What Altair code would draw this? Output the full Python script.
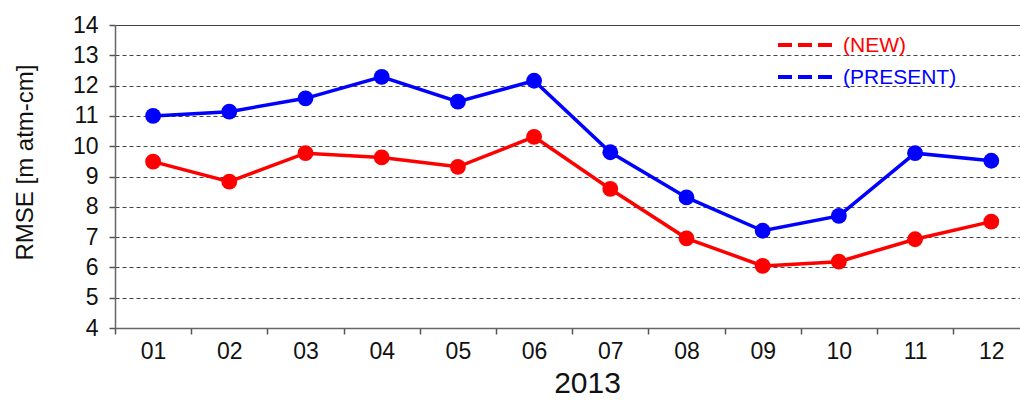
import altair as alt
import pandas as pd

# ---- data ----
month_labels = ["01", "02", "03", "04", "05", "06", "07", "08", "09", "10", "11", "12"]
month_num = list(range(1, 13))
new_vals = [9.49, 8.83, 9.77, 9.63, 9.32, 10.31, 8.59, 6.96, 6.05, 6.19, 6.93, 7.51]
present_vals = [11.00, 11.14, 11.58, 12.29, 11.47, 12.16, 9.80, 8.31, 7.21, 7.70, 9.77, 9.52]
series_names = ["(NEW)", "(PRESENT)"]
series_colors = ["#ff0000", "#0000ff"]
y_ticks = list(range(4, 15))
year_label = "2013"
y_title = "RMSE [m atm-cm]"

rows = []
for m, v in zip(month_num, new_vals):
    rows.append({"month": m, "value": v, "series": series_names[0]})
for m, v in zip(month_num, present_vals):
    rows.append({"month": m, "value": v, "series": series_names[1]})
df = pd.DataFrame(rows)

W, H = 905, 303
x_values = [v / 2 for v in range(1, 25)]  # 0.5, 1.0, ... 12.0
label_array = "[" + ",".join("'%s'" % s for s in month_labels) + "]"

FONT = "Liberation Sans"

x_enc = alt.X(
    "month:Q",
    scale=alt.Scale(domain=[0.5, 12.377], nice=False, zero=False),
    axis=alt.Axis(
        values=x_values,
        labelExpr="datum.value % 1 == 0 ? " + label_array + "[datum.value - 1] : ''",
        tickOpacity={"condition": {"test": "datum.value % 1 == 0", "value": 0}, "value": 1},
        tickSize=6,
        tickColor="#555555",
        tickWidth=1.5,
        labelOverlap=False,
        labelFlush=False,
        labelBound=False,
        labelFont=FONT,
        labelFontSize=23,
        labelColor="#111111",
        labelPadding=6,
        domainColor="#666666",
        domainWidth=1.5,
        grid=False,
        title=year_label,
        titleFont=FONT,
        titleFontSize=30,
        titleFontWeight="normal",
        titleColor="#111111",
        titleX=472,
        titleY=64,
        titleBaseline="alphabetic",
        titleAlign="center",
    ),
)

y_enc = alt.Y(
    "value:Q",
    scale=alt.Scale(domain=[4, 14], nice=False, zero=False),
    axis=alt.Axis(
        values=y_ticks,
        format="d",
        grid=True,
        gridColor="#444444",
        gridWidth=1,
        gridDash={"condition": {"test": "datum.value == 14", "value": []}, "value": [4, 3]},
        tickSize=6,
        tickColor="#555555",
        tickWidth=1.5,
        labelFont=FONT,
        labelFontSize=23,
        labelColor="#111111",
        labelPadding=11,
        domainColor="#666666",
        domainWidth=1.5,
        title=y_title,
        titleFont=FONT,
        titleFontSize=24,
        titleFontWeight="normal",
        titleColor="#111111",
        titleX=-90,
        titleY=137,
        titleAngle=270,
        titleAlign="center",
        titleBaseline="middle",
    ),
)

color_enc = alt.Color(
    "series:N",
    scale=alt.Scale(domain=series_names, range=series_colors),
    legend=None,
)

base = alt.Chart(df)
lines = base.mark_line(strokeWidth=3.5).encode(x=x_enc, y=y_enc, color=color_enc, detail="series:N")
points = base.mark_circle(size=250, opacity=1).encode(x=x_enc, y=y_enc, color=color_enc)

# manual legend (layout positions in pixels relative to plot area)
legend_layers = []
legend_y = [20, 52]
for name, col, ly in zip(series_names, series_colors, legend_y):
    ldf = pd.DataFrame({"label": [name]})
    rule = alt.Chart(ldf).mark_rule(strokeWidth=4, strokeDash=[14, 6], color=col).encode(
        x=alt.value(663), x2=alt.value(719), y=alt.value(ly)
    )
    txt = alt.Chart(ldf).mark_text(
        align="left", baseline="middle", fontSize=21, font=FONT, color=col
    ).encode(x=alt.value(728), y=alt.value(ly + 1), text="label:N")
    legend_layers += [rule, txt]

chart = alt.layer(lines, points, *legend_layers).properties(
    width=W,
    height=H,
    autosize=alt.AutoSizeParams(type="none"),
    padding={"left": 115, "top": 25, "right": 0, "bottom": 72},
    background="white",
).configure_view(stroke=None)

chart.save("out.html", embed_options={"renderer": "svg", "actions": False})
